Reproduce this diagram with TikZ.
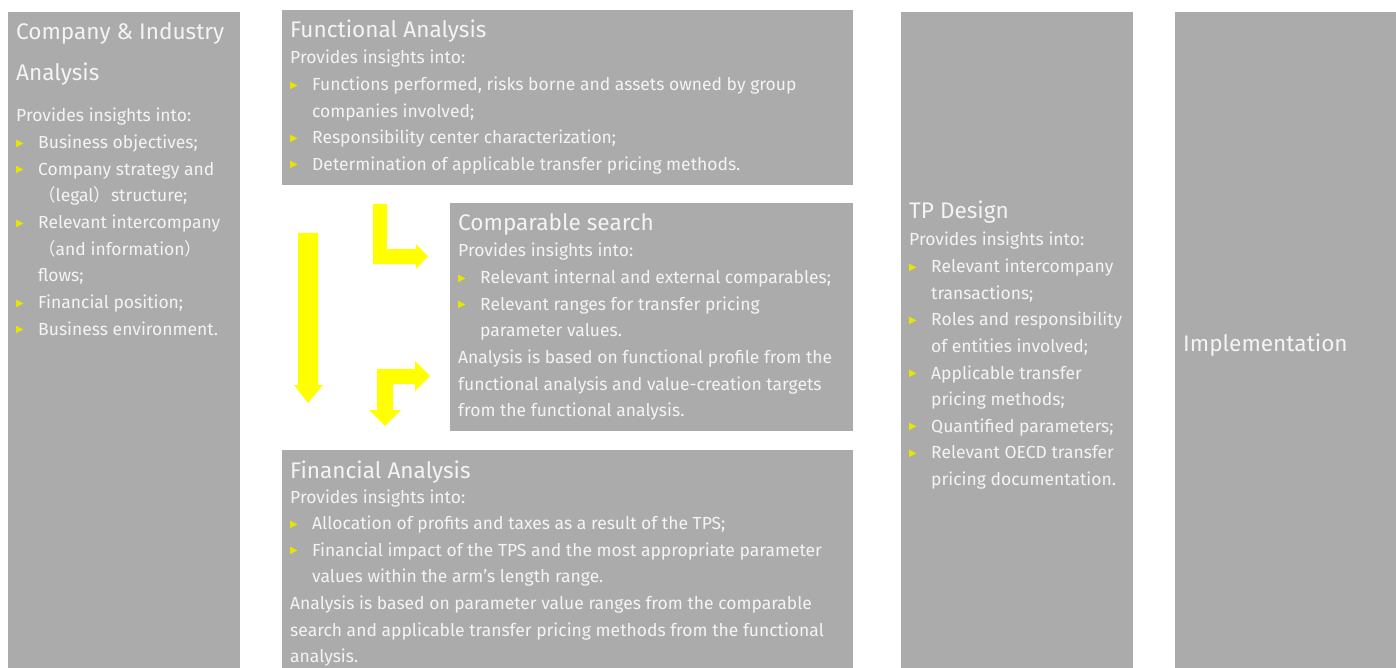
\documentclass[tikz,border=0pt]{standalone}
\usepackage{fontspec}
\setmainfont{Fira Sans}
\newfontfamily\symfont{DejaVu Sans}
\newfontfamily\cjkfont{Noto Sans CJK SC}

\definecolor{panelgray}{HTML}{ABABAB}
\definecolor{paneltext}{HTML}{F4F4F4}
\definecolor{bulletyellow}{HTML}{E6E600}
\definecolor{arrowyellow}{HTML}{FFFF00}

% list helpers: plain row, bulleted row, continuation row
\newcommand{\bulmark}{\makebox[22pt][l]{\raisebox{2.5pt}{\symfont\fontsize{10}{10}\selectfont\textcolor{bulletyellow}{▶}}}}
\newcommand{\plainrow}[1]{\hbox{#1}}
\newcommand{\bulrow}[1]{\hbox{\bulmark#1}}
\newcommand{\controw}[1]{\hbox{\hspace*{22pt}#1}}
\newcommand{\textblock}[2]{\vtop{\baselineskip=#1\lineskiplimit=-100pt\relax #2}}
\newcommand{\fwopen}{{\cjkfont （}}
\newcommand{\fwclose}{{\cjkfont ）}}

\begin{document}
\begin{tikzpicture}[x=1pt,y=-1pt,
  panel/.style={fill=panelgray, draw=none, inner sep=0pt, outer sep=0pt, anchor=north west},
  titletext/.style={text=paneltext, font=\fontsize{22.6}{26}\selectfont, inner sep=0pt, anchor=base west},
  bodytext/.style={text=paneltext, font=\fontsize{17.5}{21}\selectfont, inner sep=0pt, anchor=base west},
  blockarrow/.style={fill=arrowyellow, draw=none}]
\useasboundingbox (0,0) rectangle (1396,668);

% panels
\node[panel, minimum width=232pt, minimum height=656pt] (cia) at (8,12) {};
\node[panel, minimum width=571pt, minimum height=175pt] (fa) at (282,10) {};
\node[panel, minimum width=403pt, minimum height=228pt] (cs) at (450,203) {};
\node[panel, minimum width=571pt, minimum height=218pt] (fin) at (282,450) {};
\node[panel, minimum width=232pt, minimum height=656pt] (tp) at (901,12) {};
\node[panel, minimum width=221pt, minimum height=656pt] (impl) at (1175,12) {};

% Company & Industry Analysis
\node[titletext] (ciatitle) at (16,40) {\textblock{40.5pt}{\plainrow{Company \& Industry}\plainrow{Analysis}}};
\node[bodytext] (ciabody) at (16,122) {\textblock{26.65pt}{%
  \plainrow{Provides insights into:}%
  \bulrow{Business objectives;}%
  \bulrow{Company strategy and}%
  \controw{\fwopen legal\fwclose structure;}%
  \bulrow{Relevant intercompany}%
  \controw{\fwopen and information\fwclose}%
  \controw{flows;}%
  \bulrow{Financial position;}%
  \bulrow{Business environment.}}};

% Functional Analysis
\node[titletext] (fatitle) at (290,38) {Functional Analysis};
\node[bodytext] (fabody) at (290,64) {\textblock{26.6pt}{%
  \plainrow{Provides insights into:}%
  \bulrow{Functions performed, risks borne and assets owned by group}%
  \controw{companies involved;}%
  \bulrow{Responsibility center characterization;}%
  \bulrow{Determination of applicable transfer pricing methods.}}};

% Comparable search
\node[titletext] (cstitle) at (458,231) {Comparable search};
\node[bodytext] (csbody) at (458,257) {\textblock{26.6pt}{%
  \plainrow{Provides insights into:}%
  \bulrow{Relevant internal and external comparables;}%
  \bulrow{Relevant ranges for transfer pricing}%
  \controw{parameter values.}%
  \plainrow{Analysis is based on functional profile from the}%
  \plainrow{functional analysis and value-creation targets}%
  \plainrow{from the functional analysis.}}};

% Financial Analysis
\node[titletext] (fintitle) at (290,478) {Financial Analysis};
\node[bodytext] (finbody) at (290,503) {\textblock{26.6pt}{%
  \plainrow{Provides insights into:}%
  \bulrow{Allocation of profits and taxes as a result of the TPS;}%
  \bulrow{Financial impact of the TPS and the most appropriate parameter}%
  \controw{values within the arm’s length range.}%
  \plainrow{Analysis is based on parameter value ranges from the comparable}%
  \plainrow{search and applicable transfer pricing methods from the functional}%
  \plainrow{analysis.}}};

% TP Design
\node[titletext] (tptitle) at (909,219) {TP Design};
\node[bodytext] (tpbody) at (909,246) {\textblock{26.6pt}{%
  \plainrow{Provides insights into:}%
  \bulrow{Relevant intercompany}%
  \controw{transactions;}%
  \bulrow{Roles and responsibility}%
  \controw{of entities involved;}%
  \bulrow{Applicable transfer}%
  \controw{pricing methods;}%
  \bulrow{Quantified parameters;}%
  \bulrow{Relevant OECD transfer}%
  \controw{pricing documentation.}}};

% Implementation
\node[titletext] (impltitle) at (1183,351) {Implementation};

% block arrows
\fill[blockarrow] (298,233) -- (318,233) -- (318,385) -- (323,385) -- (308,403)
  -- (294,385) -- (298,385) -- cycle;
\fill[blockarrow] (373,204) -- (387,204) -- (387,249) -- (416,249) -- (416,244)
  -- (428,256.5) -- (416,269) -- (416,264) -- (373,264) -- cycle;
\fill[blockarrow] (377,369) -- (415,369) -- (415,361) -- (430,376) -- (415,391)
  -- (415,384) -- (393,384) -- (393,410) -- (401,410) -- (385,426) -- (369,410)
  -- (377,410) -- cycle;
\end{tikzpicture}
\end{document}
